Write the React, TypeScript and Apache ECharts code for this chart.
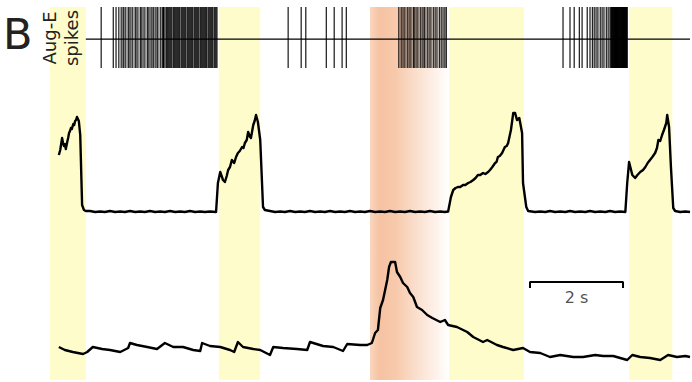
import React, { useEffect, useRef } from "react";
import * as echarts from "echarts";

const X_MAX = 13.76;

// spike times (s)
const SPIKES_GROUP_1 = [
  1.1, 1.36, 1.42, 1.48, 1.53, 1.57, 1.59, 1.63, 1.68, 1.7, 1.74, 1.78, 1.83, 1.85, 1.89, 1.94, 1.96, 2.0,
  2.04, 2.09, 2.11, 2.15, 2.19, 2.22, 2.26, 2.3, 2.32, 2.37, 2.41, 2.43, 2.44, 2.47, 2.5, 2.52, 2.54, 2.56,
  2.58, 2.6, 2.62, 2.65, 2.67, 2.69, 2.71, 2.73, 2.75, 2.77, 2.79, 2.82, 2.84, 2.86, 2.88, 2.9, 2.92, 2.95,
  2.97, 2.99, 3.01, 3.03, 3.05, 3.07, 3.1, 3.12, 3.14, 3.16, 3.18, 3.2, 3.23, 3.25, 3.27, 3.29, 3.31, 3.33,
  3.35, 3.37, 3.4, 3.42, 3.44, 3.46, 3.48, 3.5, 3.53, 3.55, 3.57, 3.59,
];
const SPIKES_GROUP_2 = [5.12, 5.4, 5.5, 5.94, 6.11, 6.28, 6.37];
const SPIKES_GROUP_3 = [
  7.5, 7.55, 7.59, 7.63, 7.68, 7.72, 7.76, 7.81, 7.83, 7.87, 7.91, 7.96, 8.0, 8.04, 8.06, 8.11, 8.15, 8.19,
  8.24, 8.28, 8.32, 8.37, 8.41, 8.45, 8.49, 8.52,
];
const SPIKES_GROUP_4 = [
  11.03, 11.18, 11.27, 11.38, 11.44, 11.55, 11.61, 11.66, 11.7, 11.74, 11.78, 11.83, 11.87, 11.91, 11.96,
  12.0, 12.04, 12.06, 12.07, 12.09, 12.1, 12.11, 12.12, 12.13, 12.14, 12.15, 12.16, 12.17, 12.18, 12.19,
  12.2, 12.21, 12.22, 12.23, 12.24, 12.25, 12.26, 12.27, 12.28, 12.29, 12.3, 12.31, 12.32, 12.33, 12.34,
  12.35, 12.36, 12.37, 12.38, 12.39, 12.4, 12.41,
];
const SPIKE_TIMES = [...SPIKES_GROUP_1, ...SPIKES_GROUP_2, ...SPIKES_GROUP_3, ...SPIKES_GROUP_4];

// upper trace [time s, amplitude]
const TOP_TRACE = [
  [0.19, 65], [0.22, 70], [0.24, 76], [0.26, 82], [0.28, 77], [0.3, 74], [0.32, 76], [0.34, 71], [0.37, 78],
  [0.39, 82], [0.41, 87], [0.43, 89], [0.45, 92], [0.47, 91], [0.5, 96], [0.52, 95], [0.54, 99], [0.56, 100],
  [0.58, 103], [0.6, 101], [0.62, 99], [0.65, 85], [0.69, 15], [0.73, 10], [0.77, 9],
  [0.86, 9], [0.97, 8], [1.08, 8.5], [1.18, 8], [1.29, 9], [1.4, 8], [1.51, 8.5], [1.61, 8], [1.72, 9], [1.83, 8],
  [1.94, 8.5], [2.04, 8], [2.15, 9], [2.26, 8], [2.37, 8.5], [2.47, 8], [2.58, 9], [2.69, 8], [2.8, 8.5],
  [2.9, 8], [3.01, 9], [3.12, 8], [3.23, 8.5], [3.33, 8], [3.44, 8.5], [3.57, 8],
  [3.61, 37], [3.66, 48], [3.72, 40], [3.76, 38], [3.8, 44], [3.83, 50], [3.87, 53], [3.91, 60], [3.96, 57],
  [4.0, 63], [4.04, 67], [4.08, 69], [4.13, 73], [4.16, 72], [4.19, 77], [4.23, 80], [4.26, 88], [4.29, 84],
  [4.32, 82], [4.37, 95], [4.4, 99], [4.43, 105], [4.47, 98], [4.52, 80], [4.58, 13], [4.62, 10],
  [4.73, 9], [4.84, 8], [4.95, 8.5], [5.05, 8], [5.16, 9], [5.27, 8], [5.38, 8.5], [5.48, 8], [5.59, 9],
  [5.7, 8], [5.81, 8.5], [5.91, 8], [6.02, 9], [6.13, 8], [6.24, 8.5], [6.34, 8], [6.45, 9], [6.56, 8],
  [6.67, 8.5], [6.77, 8], [6.88, 9], [6.99, 8], [7.1, 8.5], [7.2, 8], [7.31, 9], [7.42, 8], [7.53, 8.5],
  [7.63, 8], [7.74, 9], [7.85, 8], [7.96, 8.5], [8.06, 8], [8.17, 9], [8.28, 8], [8.39, 8.5], [8.49, 8], [8.56, 8.5],
  [8.62, 23], [8.67, 30], [8.72, 32], [8.77, 33], [8.82, 33], [8.88, 35], [8.93, 35], [8.99, 37], [9.04, 38],
  [9.1, 40], [9.15, 42], [9.2, 45], [9.25, 45], [9.31, 47], [9.36, 46], [9.42, 48], [9.46, 50], [9.51, 53],
  [9.57, 57], [9.6, 58], [9.63, 63], [9.67, 64], [9.72, 67], [9.78, 73], [9.82, 74], [9.85, 77], [9.91, 90],
  [9.96, 107], [10.0, 107], [10.04, 100], [10.09, 102], [10.15, 87], [10.17, 37], [10.24, 13], [10.28, 9],
  [10.43, 8], [10.54, 8.5], [10.65, 8], [10.75, 9], [10.86, 8], [10.97, 8.5], [11.08, 8], [11.18, 9],
  [11.29, 8], [11.4, 8.5], [11.51, 8], [11.61, 9], [11.72, 8], [11.83, 8.5], [11.94, 8], [12.04, 9],
  [12.15, 8], [12.26, 8.5], [12.37, 8],
  [12.41, 37], [12.45, 58], [12.52, 45], [12.58, 42], [12.63, 45], [12.69, 48], [12.75, 50], [12.8, 53],
  [12.85, 57], [12.9, 60], [12.95, 63], [13.01, 67], [13.05, 72], [13.08, 80], [13.12, 79], [13.16, 85],
  [13.2, 90], [13.25, 97], [13.27, 105], [13.31, 93], [13.35, 53], [13.4, 12],
  [13.44, 9], [13.55, 8], [13.66, 8.5], [13.76, 8],
];

// lower trace [time s, amplitude]
const BOTTOM_TRACE = [
  [0.19, 33], [0.32, 30], [0.49, 28], [0.71, 26], [0.8, 28], [0.92, 33], [1.12, 31], [1.29, 30], [1.51, 28],
  [1.68, 32], [1.72, 37], [1.87, 35], [2.09, 33], [2.3, 31], [2.47, 37], [2.65, 33], [2.86, 33], [3.08, 30],
  [3.23, 29], [3.27, 37], [3.44, 34], [3.66, 33], [3.87, 30], [3.96, 28], [4.04, 38], [4.15, 33], [4.37, 31],
  [4.52, 30], [4.73, 25], [4.8, 33], [5.01, 32], [5.31, 31], [5.53, 30], [5.59, 38], [5.87, 34], [6.09, 33],
  [6.3, 29], [6.39, 36], [6.67, 35], [6.82, 35], [6.92, 37], [6.99, 47], [7.05, 50], [7.1, 72], [7.16, 80],
  [7.25, 100], [7.29, 113], [7.33, 118], [7.42, 118], [7.46, 108], [7.53, 103], [7.59, 97], [7.68, 93],
  [7.74, 87], [7.81, 83], [7.89, 73], [8.0, 70], [8.11, 65], [8.22, 62], [8.39, 58], [8.49, 60], [8.56, 55],
  [8.75, 53], [8.97, 48], [9.1, 43], [9.31, 38], [9.4, 40], [9.61, 35], [9.74, 33], [9.96, 30], [10.17, 32],
  [10.32, 28], [10.54, 27], [10.75, 23], [10.97, 25], [11.25, 23], [11.46, 23], [11.72, 25], [11.89, 24],
  [12.11, 24], [12.41, 20], [12.52, 25], [12.69, 23], [12.9, 22], [13.12, 20], [13.29, 25], [13.48, 23],
  [13.66, 24], [13.76, 23],
];

const YELLOW_BANDS = [
  [0, 0.77],
  [3.63, 4.52],
  [8.58, 10.19],
  [12.45, 13.38],
];
const ORANGE_BAND = [6.88, 8.58];

const SCALE_BAR = { start: 10.32, length: 2, level: 98, tick: 92, labelLevel: 83 };
const RASTER_LINE = [0.77, X_MAX];

const FONT = "DejaVu Sans";

export default function App() {
  const ref = useRef<HTMLDivElement>(null);
  useEffect(() => {
    if (!ref.current) return;
    const chart = echarts.init(ref.current, null, { renderer: "svg" });
    const grids = [
      { left: 50, right: 2, top: 7, height: 61 },
      { left: 50, right: 2, top: 100, height: 120 },
      { left: 50, right: 2, top: 240, height: 140 },
      { left: 50, right: 2, top: 7, height: 373 },
    ];
    const xAxis = grids.map((_, i) => ({ type: "value", gridIndex: i, min: 0, max: X_MAX, show: false }));
    const yAxis = [
      { type: "value", gridIndex: 0, min: 0, max: 1, show: false },
      { type: "value", gridIndex: 1, min: 0, max: 120, show: false },
      { type: "value", gridIndex: 2, min: 0, max: 140, show: false },
      { type: "value", gridIndex: 3, min: 0, max: 1, show: false },
    ];
    const bandAreas: any[] = YELLOW_BANDS.map((b) => [
      { xAxis: b[0], itemStyle: { color: "#fffccc" } },
      { xAxis: b[1] },
    ]);
    bandAreas.push([
      {
        xAxis: ORANGE_BAND[0],
        itemStyle: {
          color: {
            type: "linear",
            x: 0,
            y: 0,
            x2: 1,
            y2: 0,
            colorStops: [
              { offset: 0, color: "#fad6bf" },
              { offset: 0.12, color: "#f6c3a3" },
              { offset: 0.32, color: "#f7c9ab" },
              { offset: 0.6, color: "#fbe0cf" },
              { offset: 0.85, color: "#fef3ec" },
              { offset: 1, color: "#ffffff" },
            ],
          },
        },
      },
      { xAxis: ORANGE_BAND[1] },
    ]);

    const option: any = {
      animation: false,
      grid: grids,
      xAxis,
      yAxis,
      graphic: [
        {
          type: "text",
          left: 3,
          top: 12,
          style: { text: "B", font: `43px ${FONT}`, fill: "#222" },
          z: 10,
        },
        {
          type: "text",
          x: 60,
          y: 38,
          rotation: Math.PI / 2,
          style: {
            text: "Aug-E\nspikes",
            font: `18px ${FONT}`,
            fill: "#222",
            align: "center",
            verticalAlign: "middle",
            lineHeight: 22,
          },
          z: 10,
        },
      ],
      series: [
        {
          type: "line",
          xAxisIndex: 3,
          yAxisIndex: 3,
          data: [],
          z: 0,
          silent: true,
          markArea: { silent: true, data: bandAreas },
        },
        {
          type: "custom",
          xAxisIndex: 0,
          yAxisIndex: 0,
          z: 3,
          data: SPIKE_TIMES.map((t) => [t, 0]),
          renderItem: (params: any, api: any) => {
            const p0 = api.coord([api.value(0), 0]);
            const p1 = api.coord([api.value(0), 1]);
            return {
              type: "line",
              shape: { x1: p0[0], y1: p0[1], x2: p1[0], y2: p1[1] },
              style: { stroke: "#000", lineWidth: 1.1 },
            };
          },
        },
        {
          type: "line",
          xAxisIndex: 0,
          yAxisIndex: 0,
          z: 3,
          symbol: "none",
          data: [
            [RASTER_LINE[0], 0.475],
            [RASTER_LINE[1], 0.475],
          ],
          lineStyle: { color: "#000", width: 1.3 },
        },
        {
          type: "line",
          xAxisIndex: 1,
          yAxisIndex: 1,
          z: 3,
          symbol: "none",
          data: TOP_TRACE,
          lineStyle: { color: "#000", width: 2.4, join: "round" },
        },
        {
          type: "line",
          xAxisIndex: 2,
          yAxisIndex: 2,
          z: 3,
          symbol: "none",
          data: BOTTOM_TRACE,
          lineStyle: { color: "#000", width: 2.4, join: "round" },
        },
        {
          type: "line",
          xAxisIndex: 2,
          yAxisIndex: 2,
          z: 3,
          symbol: "none",
          data: [
            [SCALE_BAR.start, SCALE_BAR.tick],
            [SCALE_BAR.start, SCALE_BAR.level],
            [SCALE_BAR.start + SCALE_BAR.length, SCALE_BAR.level],
            [SCALE_BAR.start + SCALE_BAR.length, SCALE_BAR.tick],
          ],
          lineStyle: { color: "#000", width: 2 },
        },
        {
          type: "scatter",
          xAxisIndex: 2,
          yAxisIndex: 2,
          z: 3,
          symbolSize: 1,
          itemStyle: { color: "rgba(0,0,0,0)" },
          data: [[SCALE_BAR.start + SCALE_BAR.length / 2, SCALE_BAR.labelLevel]],
          label: {
            show: true,
            position: "inside",
            formatter: "2 s",
            fontFamily: FONT,
            fontSize: 16,
            color: "#222",
          },
        },
      ],
    };
    chart.setOption(option);
    return () => chart.dispose();
  }, []);
  return (
    <div
      ref={ref}
      style={{ position: "fixed", left: 0, top: 0, width: 692, height: 382, background: "#fff" }}
    />
  );
}
